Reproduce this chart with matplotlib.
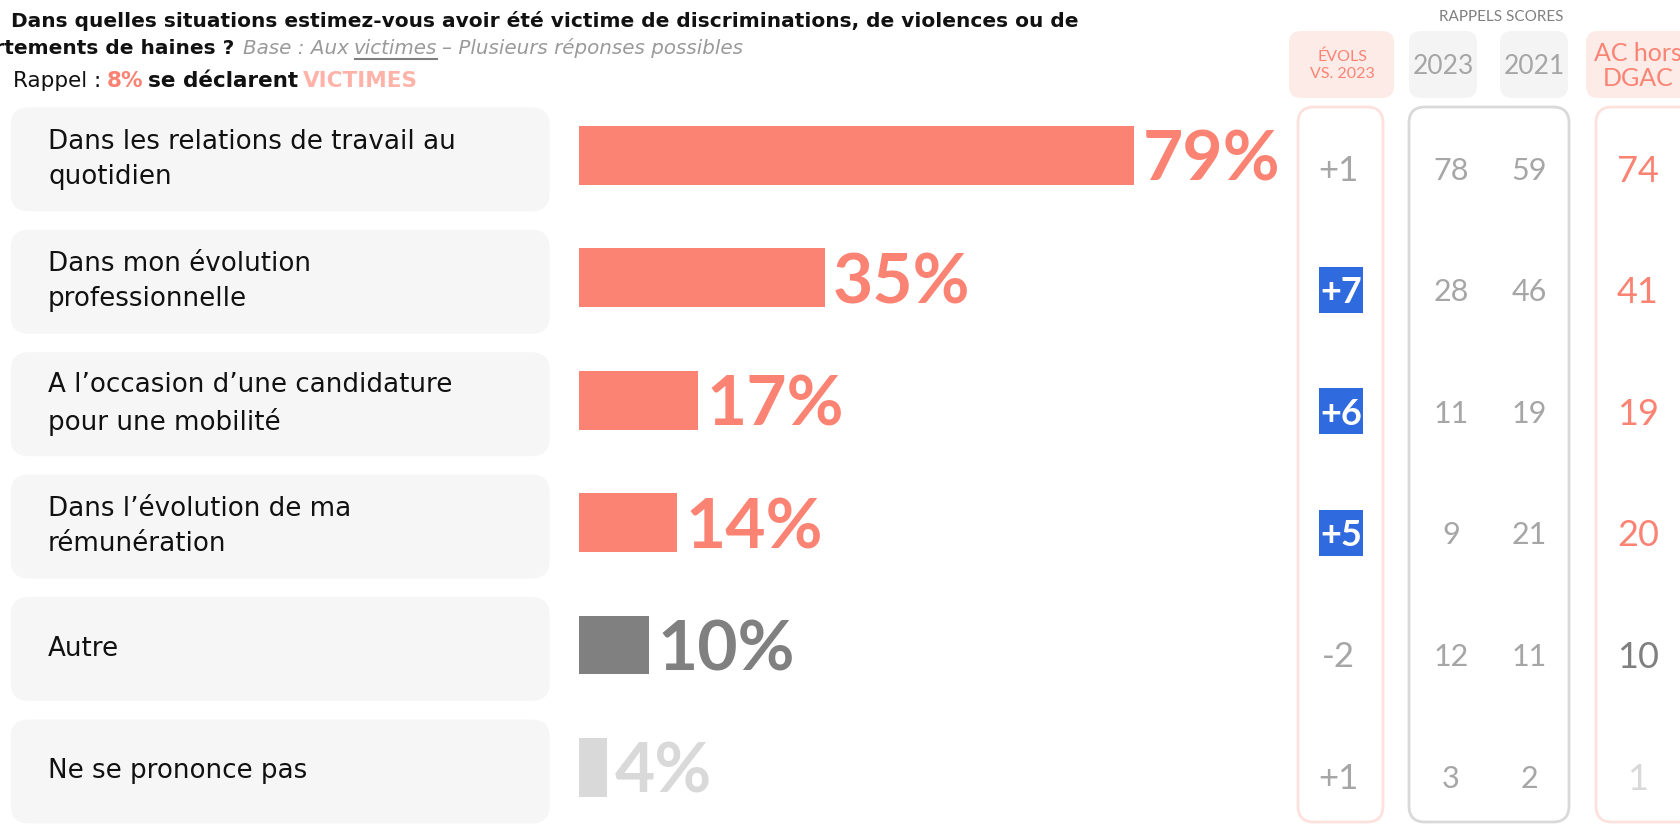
import matplotlib
matplotlib.use("Agg")
import matplotlib.pyplot as plt
from matplotlib.patches import FancyBboxPatch

plt.rcParams["font.family"] = ["DejaVu Sans"]
NUM_FONT = ["Lato", "DejaVu Sans"]

# data
labels = ["Dans les relations de travail au\nquotidien",
          "Dans mon évolution\nprofessionnelle",
          "A l’occasion d’une candidature\npour une mobilité",
          "Dans l’évolution de ma\nrémunération",
          "Autre",
          "Ne se prononce pas"]
scores = [79, 35, 17, 14, 10, 4]
evols = [1, 7, 6, 5, -2, 1]
evol_signif = [False, True, True, True, False, False]
scores_2023 = [78, 28, 11, 9, 12, 3]
scores_2021 = [59, 46, 19, 21, 11, 2]
scores_ac = [74, 41, 19, 20, 10, 1]

SALMON = "#FB8373"
PINK_BG = "#FDEBE8"
PINK_EDGE = "#FCE1DC"
GREY_TXT = "#A6A6A6"
BLUE = "#2F6BDE"
bar_colors = [SALMON] * 4 + ["#808080", "#D9D9D9"]
ac_colors = [SALMON] * 4 + ["#7F7F7F", "#D9D9D9"]

W, H = 1680, 824
fig = plt.figure(figsize=(W / 100, H / 100), dpi=100)

# pixel layer for boxes and headers
lay = fig.add_axes([0, 0, 1, 1])
lay.set_xlim(0, W)
lay.set_ylim(H, 0)
lay.axis("off")

ROW0, PITCH = 155.4, 122.4
BAR_X0, PX_PCT = 578.6, 7.03
COL_Y0, COL_PITCH = 168.0, 121.6

# bar layer, x in percent, y in row index
bx = fig.add_axes([BAR_X0 / W, 0, 100 * PX_PCT / W, 1])
bx.set_xlim(0, 100)
bx.set_ylim((H - ROW0) / PITCH, -ROW0 / PITCH)
bx.axis("off")


def rbox(x0, y0, x1, y1, r, **kw):
    p = FancyBboxPatch((x0, y0), x1 - x0, y1 - y0,
                       boxstyle=f"round,pad=0,rounding_size={r}", **kw)
    lay.add_patch(p)


# row label boxes
for i, lab in enumerate(labels):
    yc = ROW0 + PITCH * i + 4
    rbox(10.7, yc - 52, 549.6, yc + 52, 18, facecolor="#F6F6F6", edgecolor="none", zorder=0)
    lay.text(48, yc, lab, fontsize=18.8, va="center", ha="left", color="#111111",
             linespacing=1.45)

# bars + value labels
rows = list(range(len(scores)))
bx.barh(rows, scores, height=0.48, color=bar_colors, left=0)
for i, v in enumerate(scores):
    bx.annotate(f"{v}%", (v, i), xytext=(6, 0), textcoords="offset points",
                fontsize=50, fontweight="bold", color=bar_colors[i], family=NUM_FONT,
                va="center_baseline", ha="left", annotation_clip=False)

# header
lay.text(1501, 17, "RAPPELS SCORES", fontsize=11, color="#808080",
         ha="center", va="center", family=NUM_FONT)
rbox(1289, 31, 1394, 98, 12, facecolor=PINK_BG, edgecolor="none")
rbox(1409, 31, 1477, 98, 12, facecolor="#F4F4F4", edgecolor="none")
rbox(1500, 31, 1568, 98, 12, facecolor="#F4F4F4", edgecolor="none")
rbox(1586, 31, 1720, 98, 12, facecolor=PINK_BG, edgecolor="none")
lay.text(1342, 65, "ÉVOLS\nVS. 2023", fontsize=11.5, color=SALMON, family=NUM_FONT,
         ha="center", va="center", linespacing=1.25)
lay.text(1443, 66, "2023", fontsize=19, color=GREY_TXT, ha="center", va="center",
         family=NUM_FONT)
lay.text(1534, 66, "2021", fontsize=19, color=GREY_TXT, ha="center", va="center",
         family=NUM_FONT)
lay.text(1638, 66, "AC hors\nDGAC", fontsize=18, color=SALMON, family=NUM_FONT,
         ha="center", va="center", linespacing=1.1)

# column outlines
rbox(1298, 107, 1383, 822, 16, facecolor="none", edgecolor=PINK_EDGE, lw=2)
rbox(1409, 107, 1569, 822, 16, facecolor="none", edgecolor="#D9D9D9", lw=2)
rbox(1596, 107, 1720, 822, 16, facecolor="none", edgecolor=PINK_EDGE, lw=2)

# column values
for i in rows:
    y = COL_Y0 + COL_PITCH * i
    ev = f"{evols[i]:+d}"
    if evol_signif[i]:
        lay.add_patch(plt.Rectangle((1319, y - 23), 44, 46, facecolor=BLUE,
                                    edgecolor="none"))
        lay.text(1341, y, ev, fontsize=26, fontweight="bold", color="white",
                 ha="center", va="center_baseline", family=NUM_FONT)
    else:
        lay.text(1338, y, ev, fontsize=25, color=GREY_TXT, family=NUM_FONT,
                 ha="center", va="center_baseline")
    lay.text(1451, y, str(scores_2023[i]), fontsize=22, family=NUM_FONT,
             color=GREY_TXT, ha="center", va="center_baseline")
    lay.text(1529, y, str(scores_2021[i]), fontsize=22, family=NUM_FONT,
             color=GREY_TXT, ha="center", va="center_baseline")
    lay.text(1638, y, str(scores_ac[i]), fontsize=26, family=NUM_FONT,
             color=ac_colors[i], ha="center", va="center_baseline")


# title block, pieces laid out left to right
def rich(x, y, parts, size):
    r = fig.canvas.get_renderer()
    for s, kw in parts:
        under = kw.pop("underline", False)
        t = lay.text(x, y, s, fontsize=size, va="baseline", ha="left", **kw)
        bb = t.get_window_extent(renderer=r)
        if under:
            lay.plot([bb.x0 + 1, bb.x1], [y + 5, y + 5], color="#7F7F7F", lw=1.5)
        x = bb.x1 + size * 0.33


lay.text(11, 26.7, "Dans quelles situations estimez-vous avoir été victime de "
         "discriminations, de violences ou de", fontsize=14.5,
         fontweight="bold", ha="left", va="baseline", color="#111111")
lay.text(234, 54, "comportements de haines ?", fontsize=14.5, fontweight="bold",
         ha="right", va="baseline", color="#111111")
rich(243, 54, [("Base : Aux", dict(style="italic", color="#9A9A9A")),
               ("victimes", dict(style="italic", color="#9A9A9A", underline=True)),
               ("– Plusieurs réponses possibles",
                dict(style="italic", color="#9A9A9A"))], 14.3)
rich(13, 87, [("Rappel :", dict(color="#111111")),
              ("8%", dict(color=SALMON, fontweight="bold")),
              ("se déclarent", dict(color="#111111", fontweight="bold")),
              ("VICTIMES", dict(color="#FFB3A8", fontweight="bold"))], 15.5)

fig.savefig("out.png", dpi=100)
